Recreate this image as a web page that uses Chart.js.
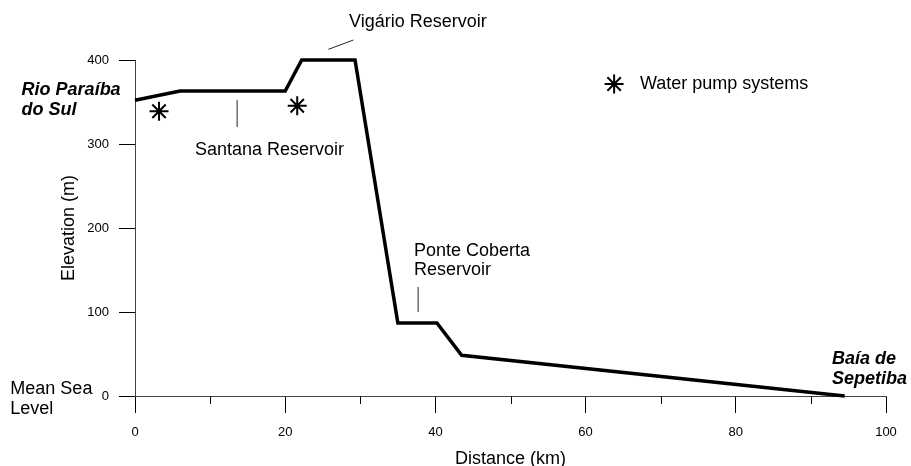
<!DOCTYPE html>
<html><head><meta charset="utf-8">
<script src="https://cdn.jsdelivr.net/npm/chart.js@4"></script>
<style>html,body{margin:0;padding:0;background:#fff}canvas{display:block}</style>
</head><body>
<canvas id="c" width="911" height="466"></canvas>
<script>
// ---- data ----
const distanceKm = [0, 6, 20, 22.2, 29.3, 35, 40.2, 43.5, 94.5];
const elevationM = [352, 363, 363, 400, 400, 87, 87, 48.5, 0];
const pumpKm = [3.2, 21.6];
const pumpElevM = [339, 345.5];
const xTicks = [0, 20, 40, 60, 80, 100];
const xMinorTicks = [10, 30, 50, 70, 90];
const yTicks = [0, 100, 200, 300, 400];
const legendLabel = 'Water pump systems';
const xTitle = 'Distance (km)';
const yTitle = 'Elevation (m)';

// annotations in data coordinates (km, m)
const labels = [
  {text: 'Vigário Reservoir', x: 28.5, y: 445.5, align: 'left', bold: false},
  {text: 'Santana Reservoir', x: 17.9, y: 293, align: 'center', bold: false},
  {text: 'Ponte Coberta', x: 37.15, y: 172.9, align: 'left', bold: false},
  {text: 'Reservoir', x: 37.15, y: 150.2, align: 'left', bold: false},
  {text: 'Rio Paraíba', x: -15.1, y: 363.7, align: 'left', bold: true},
  {text: 'do Sul', x: -15.1, y: 339.9, align: 'left', bold: true},
  {text: 'Mean Sea', x: -16.6, y: 8.6, align: 'left', bold: false},
  {text: 'Level', x: -16.6, y: -15.2, align: 'left', bold: false},
  {text: 'Baía de', x: 92.8, y: 44.3, align: 'left', bold: true},
  {text: 'Sepetiba', x: 92.8, y: 20.5, align: 'left', bold: true}
];
const leaders = [
  [25.75, 412.7, 29.08, 423.8],
  [13.6, 352.4, 13.6, 320.2],
  [37.7, 129.8, 37.7, 100]
];
const legendPos = {starX: 63.8, starY: 371.4, textX: 67.24, textY: 370.8};

const FONT = "'Liberation Sans', Arial, Helvetica, sans-serif";
Chart.defaults.font.family = FONT;
Chart.defaults.color = '#000';

const extras = {
  id: 'extras',
  afterDraw(chart) {
    const ctx = chart.ctx;
    const xs = chart.scales.x, ys = chart.scales.y;
    const px = v => xs.getPixelForValue(v), py = v => ys.getPixelForValue(v);
    ctx.save();
    // minor x ticks
    ctx.strokeStyle = '#000';
    ctx.lineWidth = 1;
    const b = chart.chartArea.bottom;
    xMinorTicks.forEach(v => {
      const x = Math.round(px(v)) + 0.5;
      ctx.beginPath(); ctx.moveTo(x, b); ctx.lineTo(x, b + 8); ctx.stroke();
    });
    // leader lines
    ctx.strokeStyle = '#222';
    ctx.lineWidth = 1;
    leaders.forEach(l => {
      ctx.beginPath(); ctx.moveTo(px(l[0]), py(l[1])); ctx.lineTo(px(l[2]), py(l[3])); ctx.stroke();
    });
    // text labels
    ctx.fillStyle = '#000';
    ctx.textBaseline = 'middle';
    labels.forEach(l => {
      ctx.font = (l.bold ? 'italic bold ' : '') + '18px ' + FONT;
      ctx.textAlign = l.align;
      ctx.fillText(l.text, px(l.x), py(l.y));
    });
    // legend
    ctx.strokeStyle = '#000';
    ctx.lineWidth = 2;
    Chart.helpers.drawPoint(ctx, {pointStyle: 'star', radius: 9.5, borderWidth: 2, rotation: 0},
      px(legendPos.starX), py(legendPos.starY));
    ctx.font = '18px ' + FONT;
    ctx.textAlign = 'left';
    ctx.fillText(legendLabel, px(legendPos.textX), py(legendPos.textY));
    ctx.restore();
  }
};

new Chart(document.getElementById('c'), {
  type: 'scatter',
  data: {
    datasets: [
      {
        label: 'Profile',
        data: distanceKm.map((d, i) => ({x: d, y: elevationM[i]})),
        showLine: true,
        borderColor: '#000',
        borderWidth: 3.5,
        pointRadius: 0,
        borderJoinStyle: 'miter',
        clip: false
      },
      {
        label: legendLabel,
        data: pumpKm.map((d, i) => ({x: d, y: pumpElevM[i]})),
        pointStyle: 'star',
        pointRadius: 9.5,
        pointBorderWidth: 2,
        borderColor: '#000',
        backgroundColor: '#000',
        clip: false
      }
    ]
  },
  options: {
    responsive: false,
    animation: false,
    events: [],
    layout: {padding: {left: 60, top: 60, right: 25, bottom: 0}},
    plugins: {legend: {display: false}, tooltip: {enabled: false}},
    scales: {
      x: {
        type: 'linear', min: 0, max: 100,
        afterBuildTicks: s => { s.ticks = xTicks.map(v => ({value: v})); },
        afterFit: s => { s.height = 70; s.paddingLeft = 0; s.paddingRight = 0; },
        grid: {drawOnChartArea: false, drawTicks: true, tickLength: 17, tickColor: '#000', tickWidth: 1},
        border: {display: true, color: '#444', width: 1},
        ticks: {font: {size: 13}, padding: 12, maxRotation: 0, color: '#000'},
        title: {display: true, text: xTitle, font: {size: 18, lineHeight: 0.8}, padding: 0, color: '#000'}
      },
      y: {
        type: 'linear', min: 0, max: 400,
        afterBuildTicks: s => { s.ticks = yTicks.map(v => ({value: v})); },
        afterFit: s => { s.width = 75; s.paddingTop = 0; s.paddingBottom = 0; },
        grid: {drawOnChartArea: false, drawTicks: true, tickLength: 16, tickColor: '#000', tickWidth: 1},
        border: {display: true, color: '#444', width: 1},
        ticks: {font: {size: 13}, padding: 10, color: '#000'},
        title: {display: true, text: yTitle, font: {size: 18, lineHeight: 1}, padding: 0, color: '#000'}
      }
    }
  },
  plugins: [extras]
});
</script>
</body></html>
